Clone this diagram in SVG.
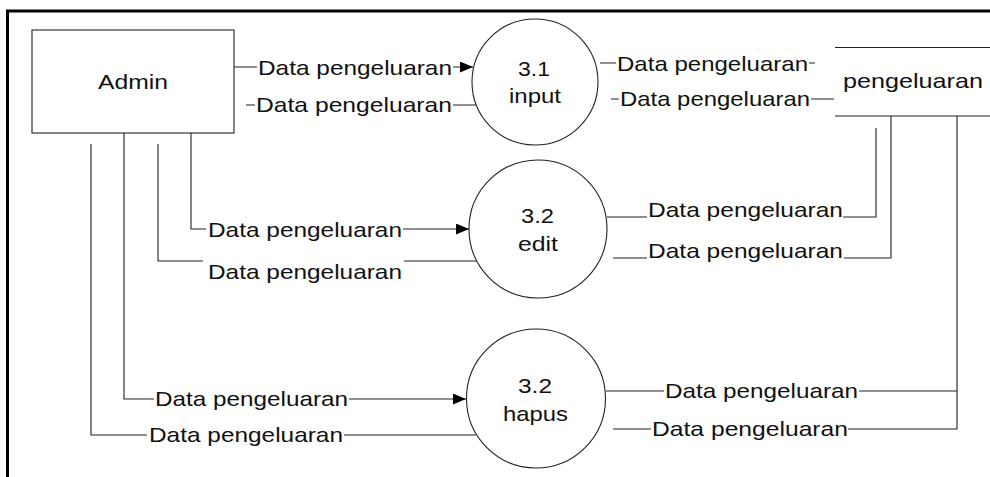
<svg xmlns="http://www.w3.org/2000/svg" width="990" height="477" viewBox="0 0 990 477">
<defs>
<style>
.t{font-family:"Liberation Sans",Arial,sans-serif;font-size:21px;fill:#111}
.ln{fill:none;stroke:#222;stroke-width:1.1}
.shape{fill:#fff;stroke:#222;stroke-width:1.1}
.bg{fill:#fff}
</style>
<marker id="arr" markerUnits="userSpaceOnUse" markerWidth="14" markerHeight="12" refX="13" refY="5.5" orient="auto">
<path d="M0,0 L13,5.5 L0,11 z" fill="#000"/>
</marker>
</defs>
<rect x="0" y="0" width="990" height="477" fill="#fff"/>
<rect x="7.5" y="11" width="1000" height="500" fill="none" stroke="#000" stroke-width="3"/>

<g id="connectors">
<path class="ln" d="M234,67 H473" marker-end="url(#arr)"/>
<path class="ln" d="M476,105 H246"/>
<path class="ln" d="M600,63 H815"/>
<path class="ln" d="M611,99 H834"/>
<path class="ln" d="M191,133 V229 H469" marker-end="url(#arr)"/>
<path class="ln" d="M477,261 H158 V144"/>
<path class="ln" d="M607,217 H876 V128"/>
<path class="ln" d="M613,258 H891 V116"/>
<path class="ln" d="M124,133 V399 H466" marker-end="url(#arr)"/>
<path class="ln" d="M476,435 H91 V144"/>
<path class="ln" d="M606,391 H957"/>
<path class="ln" d="M613,429 H957 V116"/>

<rect class="bg" x="257" y="57" width="196" height="22"/>
<text class="t" x="258" y="74.5" textLength="194" lengthAdjust="spacingAndGlyphs">Data pengeluaran</text>
<rect class="bg" x="255" y="95" width="198" height="22"/>
<text class="t" x="256" y="111.5" textLength="196" lengthAdjust="spacingAndGlyphs">Data pengeluaran</text>
<rect class="bg" x="616" y="53" width="193" height="22"/>
<text class="t" x="617" y="70.5" textLength="191" lengthAdjust="spacingAndGlyphs">Data pengeluaran</text>
<rect class="bg" x="619" y="89" width="192" height="22"/>
<text class="t" x="620" y="106" textLength="190" lengthAdjust="spacingAndGlyphs">Data pengeluaran</text>

<rect class="bg" x="206" y="219" width="197" height="23"/>
<text class="t" x="208" y="236.5" textLength="194" lengthAdjust="spacingAndGlyphs">Data pengeluaran</text>
<rect class="bg" x="203" y="254" width="201" height="30"/>
<text class="t" x="208" y="278.5" textLength="194" lengthAdjust="spacingAndGlyphs">Data pengeluaran</text>
<rect class="bg" x="647" y="199" width="196" height="23"/>
<text class="t" x="648" y="216.5" textLength="195" lengthAdjust="spacingAndGlyphs">Data pengeluaran</text>
<rect class="bg" x="647" y="240" width="197" height="23"/>
<text class="t" x="648" y="258" textLength="195" lengthAdjust="spacingAndGlyphs">Data pengeluaran</text>

<rect class="bg" x="154" y="389" width="195" height="22"/>
<text class="t" x="155" y="406" textLength="193" lengthAdjust="spacingAndGlyphs">Data pengeluaran</text>
<rect class="bg" x="147" y="425" width="197" height="22"/>
<text class="t" x="149" y="442" textLength="194" lengthAdjust="spacingAndGlyphs">Data pengeluaran</text>
<rect class="bg" x="664" y="381" width="195" height="22"/>
<text class="t" x="665" y="398" textLength="193" lengthAdjust="spacingAndGlyphs">Data pengeluaran</text>
<rect class="bg" x="651" y="419" width="197" height="22"/>
<text class="t" x="652" y="436" textLength="196" lengthAdjust="spacingAndGlyphs">Data pengeluaran</text>
</g>

<g id="admin">
<rect class="shape" x="32" y="30" width="202" height="103"/>
<text class="t" x="98" y="88.5" textLength="70" lengthAdjust="spacingAndGlyphs">Admin</text>
</g>

<g id="p31">
<circle class="shape" cx="535" cy="82" r="63"/>
<text class="t" x="518" y="76" textLength="32" lengthAdjust="spacingAndGlyphs">3.1</text>
<text class="t" x="509" y="103" textLength="52" lengthAdjust="spacingAndGlyphs">input</text>
</g>

<g id="p32edit">
<circle class="shape" cx="538" cy="229" r="69"/>
<text class="t" x="521" y="223" textLength="33" lengthAdjust="spacingAndGlyphs">3.2</text>
<text class="t" x="518" y="251" textLength="40" lengthAdjust="spacingAndGlyphs">edit</text>
</g>

<g id="p32hapus">
<circle class="shape" cx="536" cy="398.5" r="69.5"/>
<text class="t" x="518" y="393" textLength="34" lengthAdjust="spacingAndGlyphs">3.2</text>
<text class="t" x="503" y="421" textLength="65" lengthAdjust="spacingAndGlyphs">hapus</text>
</g>

<g id="store">
<path class="ln" d="M835,47.5 H990 M835,116 H990"/>
<text class="t" x="843" y="88" textLength="140" lengthAdjust="spacingAndGlyphs">pengeluaran</text>
</g>
</svg>
